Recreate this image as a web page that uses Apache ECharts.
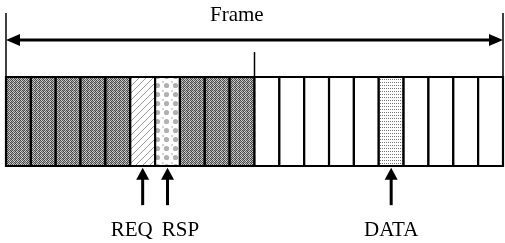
<!DOCTYPE html>
<html>
<head>
<meta charset="utf-8">
<script src="https://cdn.jsdelivr.net/npm/echarts@6/dist/echarts.min.js"></script>
<style>
html,body{margin:0;padding:0;background:#fff}
#main{width:505px;height:243px}
</style>
</head>
<body>
<div id="main"></div>
<script>
// slot types of the frame, left to right
var slotKinds = ['ctrl','ctrl','ctrl','ctrl','ctrl','req','rsp','ctrl','ctrl','ctrl',
                 'free','free','free','free','free','data','free','free','free','free'];
var splitSlot = 10;              // where control part ends
var pointerSlots = [5, 6, 15];
var pointerLabels = ['REQ', 'RSP', 'DATA'];
var frameTitle = 'Frame';

var FONT = '21px "Liberation Serif", "DejaVu Serif", serif';
// heights in frame units (frame box = 0..1)
var spanY = 1.416, sideTop = 1.72, midTop = 1.28;
var tipY = -0.02, tailY = -0.44, labelY = -0.72;
var labelShift = {REQ: -11, RSP: 13, DATA: 0};

function makePattern(w, h, draw) {
    var c = document.createElement('canvas');
    c.width = w; c.height = h;
    var ctx = c.getContext('2d');
    ctx.fillStyle = '#fff';
    ctx.fillRect(0, 0, w, h);
    draw(ctx);
    return {image: c, repeat: 'repeat'};
}
var patterns = {
    ctrl: makePattern(4, 4, function (ctx) {
        // dithered grey
        var m = ['#444','#ccc','#555','#bbb',
                 '#aaa','#555','#ddd','#4a4a4a',
                 '#505050','#c4c4c4','#484848','#999',
                 '#d0d0d0','#666','#b8b8b8','#3c3c3c'];
        for (var k = 0; k < 16; k++) {
            ctx.fillStyle = m[k];
            ctx.fillRect(k % 4, Math.floor(k / 4), 1, 1);
        }
    }),
    req: makePattern(7, 7, function (ctx) {
        ctx.strokeStyle = '#9a9a9a';
        ctx.lineWidth = 1;
        ctx.beginPath();
        ctx.moveTo(0, 7); ctx.lineTo(7, 0);
        ctx.stroke();
    }),
    rsp: makePattern(9, 9, function (ctx) {
        ctx.fillStyle = '#b0b0b0';
        ctx.beginPath();
        ctx.arc(4.5, 4.5, 2.6, 0, Math.PI * 2);
        ctx.fill();
        ctx.fillStyle = '#d4d4d4';
        ctx.fillRect(0, 0, 2, 2);
    }),
    data: makePattern(2, 3, function (ctx) {
        ctx.fillStyle = '#777';
        ctx.fillRect(0, 1, 1, 1);
    }),
    free: '#fff'
};

var slotData = slotKinds.map(function (k, i) { return [i, 0]; });
var pointerData = pointerSlots.map(function (s, i) { return [s + 0.5, 0, i]; });

var myChart = echarts.init(document.getElementById('main'));
var option = {
    animation: false,
    title: {
        text: frameTitle,
        left: 205, top: 0,
        textStyle: {fontFamily: '"Liberation Serif", serif', fontSize: 21, fontWeight: 'normal', color: '#000'}
    },
    grid: {left: 6, right: 2, top: 77, bottom: 77, show: true, borderColor: '#000', borderWidth: 1.5, backgroundColor: 'transparent'},
    xAxis: {type: 'value', min: 0, max: slotKinds.length, show: false},
    yAxis: {type: 'value', min: 0, max: 1, show: false},
    series: [
        {
            type: 'custom',
            clip: false,
            data: slotData,
            encode: {x: 0, y: 1},
            renderItem: function (params, api) {
                var i = api.value(0);
                var p0 = api.coord([i, 1]);
                var p1 = api.coord([i + 1, 0]);
                return {
                    type: 'rect',
                    shape: {x: p0[0], y: p0[1], width: p1[0] - p0[0], height: p1[1] - p0[1]},
                    style: {fill: patterns[slotKinds[i]], stroke: '#000', lineWidth: 2.2}
                };
            }
        },
        {
            // frame span: double arrow + side lines
            type: 'custom',
            clip: false,
            data: [[0, 0]],
            encode: {x: 0, y: 1},
            renderItem: function (params, api) {
                var a = api.coord([0, spanY]), b = api.coord([slotKinds.length, spanY]);
                var lt = api.coord([0, sideTop]), lb = api.coord([0, 0]);
                var rt = api.coord([slotKinds.length, sideTop]), rb = api.coord([slotKinds.length, 0]);
                var mt = api.coord([splitSlot, midTop]), mb = api.coord([splitSlot, 1]);
                var y = a[1];
                return {
                    type: 'group',
                    children: [
                        {type: 'line', shape: {x1: a[0] + 8, y1: y, x2: b[0] - 8, y2: y}, style: {stroke: '#000', lineWidth: 3}},
                        {type: 'polygon', shape: {points: [[a[0], y], [a[0] + 14, y - 6], [a[0] + 14, y + 6]]}, style: {fill: '#000'}},
                        {type: 'polygon', shape: {points: [[b[0], y], [b[0] - 14, y - 6], [b[0] - 14, y + 6]]}, style: {fill: '#000'}},
                        {type: 'line', shape: {x1: lt[0], y1: lt[1], x2: lb[0], y2: lb[1]}, style: {stroke: '#000', lineWidth: 1.5}},
                        {type: 'line', shape: {x1: rt[0], y1: rt[1], x2: rb[0], y2: rb[1]}, style: {stroke: '#000', lineWidth: 1.5}},
                        {type: 'line', shape: {x1: mt[0], y1: mt[1], x2: mb[0], y2: mb[1]}, style: {stroke: '#000', lineWidth: 1.5}}
                    ]
                };
            }
        },
        {
            // pointers under the slots
            type: 'custom',
            clip: false,
            data: pointerData,
            encode: {x: 0, y: 1},
            renderItem: function (params, api) {
                var x = api.value(0);
                var name = pointerLabels[api.value(2)];
                var tip = api.coord([x, tipY]), tail = api.coord([x, tailY]), lab = api.coord([x, labelY]);
                return {
                    type: 'group',
                    children: [
                        {type: 'line', shape: {x1: tip[0], y1: tip[1] + 8, x2: tail[0], y2: tail[1]}, style: {stroke: '#000', lineWidth: 3}},
                        {type: 'polygon', shape: {points: [[tip[0], tip[1]], [tip[0] - 6.5, tip[1] + 12], [tip[0] + 6.5, tip[1] + 12]]}, style: {fill: '#000'}},
                        {type: 'text', style: {text: name, x: lab[0] + labelShift[name], y: lab[1], align: 'center', verticalAlign: 'middle', font: FONT, fill: '#000'}}
                    ]
                };
            }
        }
    ]
};
myChart.setOption(option);
</script>
</body>
</html>
